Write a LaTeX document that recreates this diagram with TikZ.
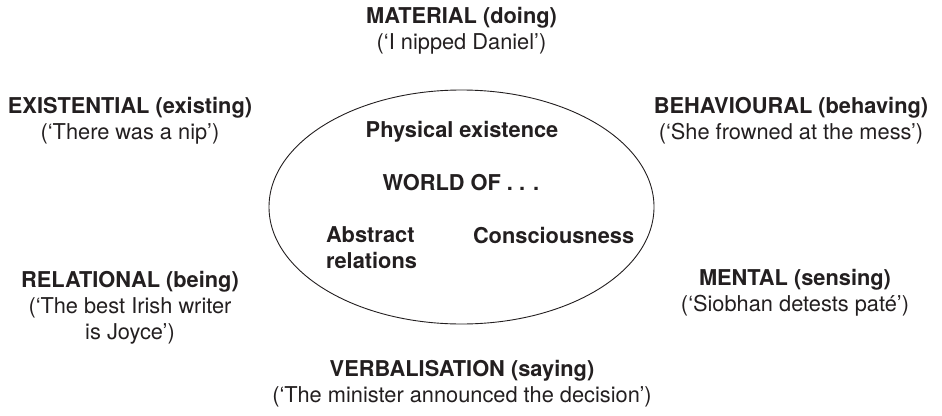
\documentclass[tikz,border=0pt]{standalone}
\usepackage{fontspec}
\setmainfont{TeX Gyre Heros}
\definecolor{ink}{HTML}{231F20}
\begin{document}
\begin{tikzpicture}[x=1pt,y=-1pt,
  every node/.style={inner sep=0pt,outer sep=0pt,text=ink,font=\fontsize{21.8}{26}\selectfont},
  lab/.style={align=center,anchor=base},
  inlab/.style={anchor=base,font=\fontsize{21.8}{26}\selectfont\bfseries}]
\useasboundingbox (0,0) rectangle (942,415);
\draw[ink,line width=0.9pt] (461.5,207) ellipse [x radius=192.5,y radius=117];
\node[lab] (mat) at (461.5,49) {\textbf{MATERIAL (doing)}\\(‘I nipped Daniel’)};
\node[lab] (exi) at (130,139) {\textbf{EXISTENTIAL (existing)}\\(‘There was a nip’)};
\node[lab] (beh) at (791,139) {\textbf{BEHAVIOURAL (behaving)}\\(‘She frowned at the mess’)};
\node[lab] (rel) at (130,339) {\textbf{RELATIONAL (being)}\\(‘The best Irish writer\\is Joyce’)};
\node[lab] (men) at (795,311) {\textbf{MENTAL (sensing)}\\(‘Siobhan detests paté’)};
\node[lab] (ver) at (462,402) {\textbf{VERBALISATION (saying)}\\(‘The minister announced the decision’)};
\node[inlab] (phy) at (462,137) {Physical existence};
\node[inlab] (wor) at (461,190) {WORLD OF . . .};
\node[inlab,anchor=base west,align=left] (abs) at (326,268) {Abstract\\relations};
\node[inlab,anchor=base west] (con) at (473,243) {Consciousness};
\end{tikzpicture}
\end{document}
